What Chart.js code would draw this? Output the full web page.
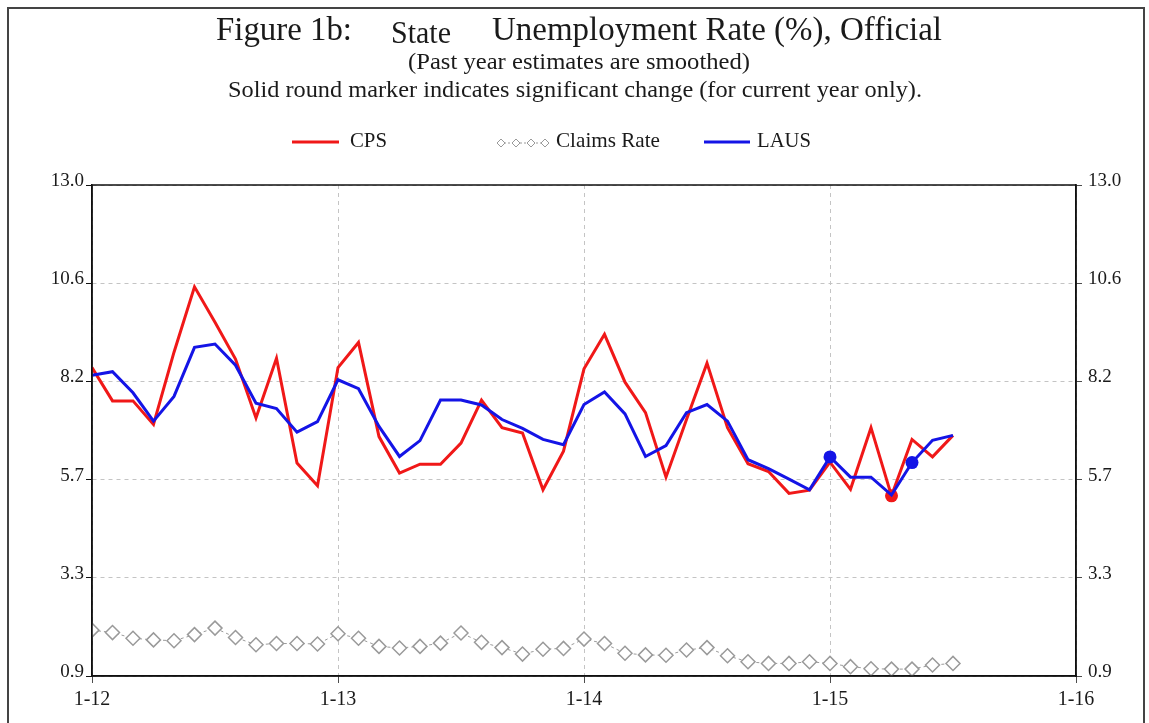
<!DOCTYPE html>
<html>
<head>
<meta charset="utf-8">
<script src="https://cdn.jsdelivr.net/npm/chart.js@4.4.1/dist/chart.umd.min.js"></script>
<style>
  html, body { margin: 0; padding: 0; background: #fff; }
  #wrap { width: 1149px; height: 723px; position: relative; }
</style>
</head>
<body>
<div id="wrap"><canvas id="grafica" width="1149" height="723"></canvas></div>
<script>
// meses desde 1-12 (indice 0) hasta 7-15 (indice 42)
const xTickLabels = ['1-12', '1-13', '1-14', '1-15', '1-16'];
const yTickValues = [0.9, 3.32, 5.74, 8.16, 10.58, 13.0];

const cps = [8.50, 7.68, 7.68, 7.10, 8.88, 10.49, 9.62, 8.71, 7.26, 8.73, 6.15, 5.59,
  8.50, 9.12, 6.80, 5.90, 6.12, 6.12, 6.64, 7.70, 7.02, 6.89, 5.49, 6.44,
  8.47, 9.32, 8.14, 7.39, 5.80, 7.22, 8.61, 7.02, 6.13, 5.94, 5.40, 5.48,
  6.17, 5.50, 7.02, 5.34, 6.73, 6.30, 6.83];

const laus = [8.31, 8.40, 7.88, 7.18, 7.79, 9.00, 9.08, 8.56, 7.62, 7.49, 6.91, 7.17,
  8.20, 7.98, 7.05, 6.31, 6.70, 7.70, 7.70, 7.58, 7.22, 7.00, 6.73, 6.60,
  7.59, 7.90, 7.36, 6.31, 6.58, 7.39, 7.59, 7.18, 6.23, 6.01, 5.75, 5.49,
  6.30, 5.80, 5.80, 5.36, 6.16, 6.71, 6.83];

const claims = [2.03, 1.97, 1.83, 1.79, 1.77, 1.92, 2.08, 1.85, 1.67, 1.70, 1.70, 1.69,
  1.94, 1.83, 1.63, 1.59, 1.63, 1.71, 1.96, 1.73, 1.60, 1.44, 1.56, 1.58,
  1.81, 1.70, 1.46, 1.42, 1.41, 1.54, 1.60, 1.40, 1.25, 1.21, 1.21, 1.25,
  1.21, 1.13, 1.08, 1.07, 1.07, 1.17, 1.21];

// puntos con cambio significativo (marcador redondo solido)
const sigCps = [39];
const sigLaus = [36, 40];

const serif = "'Liberation Serif', 'Times New Roman', serif";
const rojo = '#f01818';
const azul = '#1414e6';
const gris = '#9a9a9a';

const aPuntos = arr => arr.map((v, i) => ({ x: i, y: v }));

// texto ajustado a un ancho dado
function textoAjustado(ctx, txt, x, y, size, ancho) {
  ctx.font = `${size}px ${serif}`;
  const w = ctx.measureText(txt).width;
  ctx.save();
  ctx.translate(x, y);
  ctx.scale(ancho / w, 1);
  ctx.textAlign = 'left';
  ctx.fillText(txt, 0, 0);
  ctx.restore();
}

// titulo, leyenda y marco dibujados a mano
const encabezado = {
  id: 'encabezado',
  beforeDraw(chart) {
    const ctx = chart.ctx;
    ctx.save();
    ctx.strokeStyle = '#444';
    ctx.lineWidth = 2;
    ctx.strokeRect(8, 8, 1136, 740);
    ctx.restore();
  },
  afterDraw(chart) {
    const ctx = chart.ctx;
    const a = chart.chartArea;
    ctx.save();
    ctx.strokeStyle = '#111';
    ctx.lineWidth = 1.5;
    ctx.strokeRect(a.left, a.top, a.right - a.left, a.bottom - a.top);

    ctx.fillStyle = '#1a1a1a';
    ctx.textBaseline = 'alphabetic';
    textoAjustado(ctx, 'Figure 1b:', 216, 40, 34, 136);
    textoAjustado(ctx, 'State', 391, 43, 31, 60);
    textoAjustado(ctx, 'Unemployment Rate (%), Official', 492, 40, 34, 450);
    textoAjustado(ctx, '(Past year estimates are smoothed)', 408, 69, 24, 342);
    textoAjustado(ctx, 'Solid round marker indicates significant change (for current year only).', 228, 97, 24, 694);

    // leyenda
    const yl = 142;
    ctx.lineWidth = 3;
    ctx.strokeStyle = rojo;
    ctx.beginPath(); ctx.moveTo(292, yl); ctx.lineTo(339, yl); ctx.stroke();
    ctx.strokeStyle = azul;
    ctx.beginPath(); ctx.moveTo(704, yl); ctx.lineTo(750, yl); ctx.stroke();

    ctx.strokeStyle = gris;
    ctx.lineWidth = 1;
    ctx.setLineDash([2, 2]);
    ctx.beginPath(); ctx.moveTo(500, yl + 1); ctx.lineTo(546, yl + 1); ctx.stroke();
    ctx.setLineDash([]);
    [501, 516, 531, 545].forEach(x => {
      ctx.beginPath();
      ctx.moveTo(x, yl - 3); ctx.lineTo(x + 4, yl + 1); ctx.lineTo(x, yl + 5); ctx.lineTo(x - 4, yl + 1);
      ctx.closePath();
      ctx.fillStyle = '#fff';
      ctx.fill();
      ctx.stroke();
    });

    ctx.fillStyle = '#1a1a1a';
    textoAjustado(ctx, 'CPS', 350, 147, 22, 37);
    textoAjustado(ctx, 'Claims Rate', 556, 147, 22, 104);
    textoAjustado(ctx, 'LAUS', 757, 147, 22, 54);
    ctx.restore();
  }
};

const ctx = document.getElementById('grafica').getContext('2d');

const ejeY = (pos, ancho) => ({
  type: 'linear',
  position: pos,
  min: 0.9,
  max: 13.0,
  afterBuildTicks: s => { s.ticks = yTickValues.map(v => ({ value: v })); },
  afterFit: s => { s.width = ancho; },
  ticks: {
    font: { family: serif, size: 19 },
    color: '#1a1a1a',
    padding: pos === 'left' ? 2 : 6,
    labelOffset: -4,
    callback: v => v.toFixed(1)
  },
  grid: {
    drawOnChartArea: pos === 'left',
    color: '#c4c4c4',
    tickColor: '#111',
    tickLength: 6,
    tickBorderDash: [1, 0]
  },
  border: { display: true, color: '#111', width: 1.5, dash: [4, 4] }
});

new Chart(ctx, {
  type: 'line',
  data: {
    datasets: [
      {
        label: 'LAUS',
        data: aPuntos(laus),
        borderColor: azul,
        backgroundColor: azul,
        borderWidth: 3,
        pointRadius: c => sigLaus.includes(c.dataIndex) ? 6.5 : 0,
        pointBorderWidth: 0,
        tension: 0,
        order: 1
      },
      {
        label: 'CPS',
        data: aPuntos(cps),
        borderColor: rojo,
        backgroundColor: rojo,
        borderWidth: 3,
        pointRadius: c => sigCps.includes(c.dataIndex) ? 6.5 : 0,
        pointBorderWidth: 0,
        tension: 0,
        order: 2
      },
      {
        label: 'Claims Rate',
        data: aPuntos(claims),
        borderColor: gris,
        backgroundColor: '#fff',
        borderWidth: 1,
        borderDash: [3, 3],
        pointStyle: 'rectRot',
        pointRadius: 7,
        pointBorderWidth: 1.5,
        pointBorderColor: gris,
        pointBackgroundColor: '#fff',
        tension: 0,
        order: 3
      }
    ]
  },
  options: {
    responsive: false,
    animation: false,
    layout: { padding: { top: 185, left: 0, right: 0, bottom: 0 } },
    plugins: {
      legend: { display: false },
      title: { display: false },
      tooltip: { enabled: false }
    },
    scales: {
      x: {
        type: 'linear',
        min: 0,
        max: 48,
        afterBuildTicks: s => { s.ticks = xTickLabels.map((_, i) => ({ value: i * 12 })); },
        afterFit: s => { s.height = 47; },
        ticks: {
          font: { family: serif, size: 20 },
          color: '#1a1a1a',
          padding: 5,
          maxRotation: 0,
          callback: v => xTickLabels[v / 12]
        },
        grid: {
          color: '#c4c4c4',
          tickColor: '#111',
          tickLength: 7,
          tickBorderDash: [1, 0]
        },
        border: { display: true, color: '#111', width: 1.5, dash: [4, 4] }
      },
      y: ejeY('left', 92),
      y2: ejeY('right', 73)
    }
  },
  plugins: [encabezado]
});
</script>
</body>
</html>
